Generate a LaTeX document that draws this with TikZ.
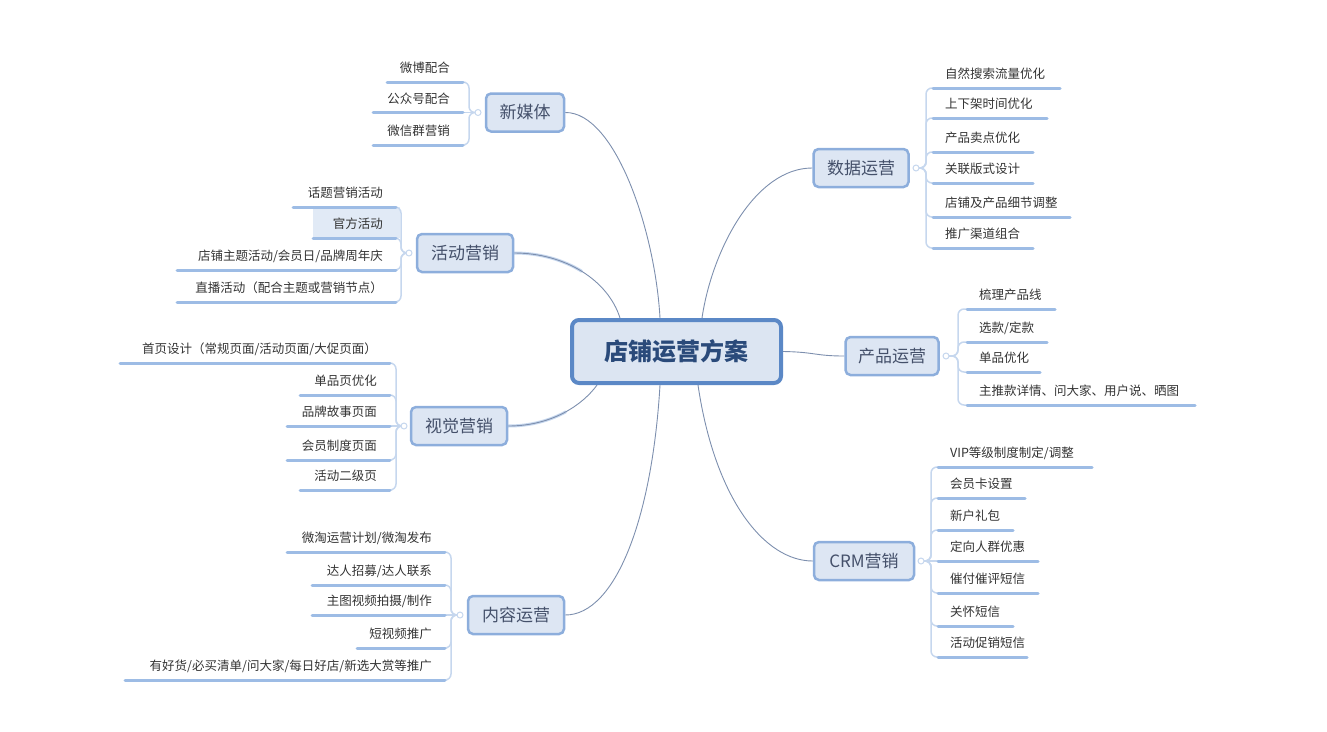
\documentclass[tikz,border=0pt]{standalone}
\usepackage{fontspec}
\setmainfont{Noto Sans CJK SC}
\pgfdeclarelayer{bg}
\pgfsetlayers{bg,main}
\definecolor{cBorder}{HTML}{5B88C6}
\definecolor{cFill}{HTML}{DCE5F2}
\definecolor{cText}{HTML}{2A4A7A}
\definecolor{tBorder}{HTML}{8DAEDC}
\definecolor{tFill}{HTML}{DDE6F3}
\definecolor{tText}{HTML}{44506A}
\definecolor{uColor}{HTML}{9DBCE5}
\definecolor{bColor}{HTML}{C6D7EE}
\definecolor{connColor}{HTML}{7D8FAE}
\definecolor{lText}{HTML}{333333}
\definecolor{hlFill}{HTML}{E1EAF6}
\tikzset{
  central/.style={draw=cBorder, line width=4pt, fill=cFill, rounded corners=7pt,
    minimum width=209pt, minimum height=63pt, text=cText,
    font=\fontsize{24}{28}\selectfont\bfseries},
  topic/.style={draw=tBorder, line width=2.5pt, fill=tFill, rounded corners=5pt,
    minimum height=38pt, text=tText, font=\fontsize{17}{20}\selectfont},
  leaf/.style={font=\fontsize{12.5}{15}\selectfont, text=lText, inner sep=0pt},
  uline/.style={draw=uColor, line width=3pt, line cap=round},
  bracket/.style={draw=bColor, line width=1.5pt, rounded corners=6pt},
  conn/.style={draw=connColor, line width=0.9pt},
  connhl/.style={draw=bColor, line width=3pt, line cap=round},
  dot/.style={circle, draw=bColor, fill=white, line width=1pt, minimum size=6pt, inner sep=0pt},
}
\newcommand{\leafL}[5]{%
  \coordinate (#1-a) at (#2,#4); \coordinate (#1-b) at (#3,#4);
  \draw[uline] (#1-a) -- (#1-b);
  \node[leaf, anchor=east, xshift=-13pt, yshift=14pt] (#1) at (#1-b) {#5};}
\newcommand{\leafR}[5]{%
  \coordinate (#1-a) at (#2,#4); \coordinate (#1-b) at (#3,#4);
  \draw[uline] (#1-a) -- (#1-b);
  \node[leaf, anchor=west, xshift=12pt, yshift=14pt] (#1) at (#1-a) {#5};}
\begin{document}
\begin{tikzpicture}[x=1pt, y=-1pt]
\useasboundingbox (0,0) rectangle (1327,731);

% central and topics
\node[central] (root) at (676.5,351.5) {店铺运营方案};
\node[topic, minimum width=78pt] (nm) at (525,112.5) {新媒体};
\node[topic, minimum width=96pt] (hd) at (465,253) {活动营销};
\node[topic, minimum width=96pt] (sj) at (459,426) {视觉营销};
\node[topic, minimum width=96pt] (nr) at (516,615) {内容运营};
\node[topic, minimum width=95pt] (data) at (861,168) {数据运营};
\node[topic, minimum width=93pt] (cp) at (892,356) {产品运营};
\node[topic, minimum width=100pt] (crm) at (864,561) {CRM营销};
\coordinate (hdM) at (581.7,271.25);
\coordinate (sjM) at (565.7,411.9);

% main connectors
\begin{pgfonlayer}{bg}
\draw[conn] (nm.east) .. controls (615,112) and (655,230) .. ([xshift=-16.5pt]root.north);
\draw[connhl] (hd.east) .. controls (539.6,253) and (563.1,259.75) .. (hdM);
\draw[conn] (hd.east) .. controls (565,253) and (608,280) .. ([xshift=-56.5pt]root.north);
\draw[conn] ([xshift=25.5pt]root.north) .. controls (712,250) and (755,168) .. (data.west);
\draw[connhl] (sj.east) .. controls (531.6,426) and (550.8,420) .. (sjM);
\draw[conn] (sj.east) .. controls (555,426) and (585,402) .. ([xshift=-79.5pt]root.south);
\draw[conn] ([xshift=-16.5pt]root.south) .. controls (652,520) and (615,615) .. (nr.east);
\draw[conn] ([xshift=21.5pt]root.south) .. controls (715,500) and (765,561) .. (crm.west);
\draw[conn] (root.east) .. controls (815,352) and (815,356) .. (cp.west);
\fill[hlFill] (313,207) rectangle (400,238);
\end{pgfonlayer}

% 新媒体
\leafL{nm1}{387}{463}{82}{微博配合}
\leafL{nm2}{373}{463}{112.5}{公众号配合}
\leafL{nm3}{373}{463}{145}{微信群营销}
% 活动营销
\leafL{hd1}{293}{396}{207}{话题营销活动}
\leafL{hd2}{313}{396}{238}{官方活动}
\leafL{hd3}{177}{396}{270}{店铺主题活动/会员日/品牌周年庆}
\leafL{hd4}{177}{396}{302}{直播活动（配合主题或营销节点）}
% 视觉营销
\leafL{sj1}{120}{390}{363}{首页设计（常规页面/活动页面/大促页面）}
\leafL{sj2}{300}{390}{395}{单品页优化}
\leafL{sj3}{287}{390}{426}{品牌故事页面}
\leafL{sj4}{287}{390}{460}{会员制度页面}
\leafL{sj5}{300}{390}{490}{活动二级页}
% 内容运营
\leafL{nr1}{287}{445}{552}{微淘运营计划/微淘发布}
\leafL{nr2}{312}{445}{585}{达人招募/达人联系}
\leafL{nr3}{312}{445}{615}{主图视频拍摄/制作}
\leafL{nr4}{357}{445}{648}{短视频推广}
\leafL{nr5}{125}{445}{680}{有好货/必买清单/问大家/每日好店/新选大赏等推广}
% 数据运营
\leafR{d1}{933}{1060}{88}{自然搜索流量优化}
\leafR{d2}{933}{1047}{118}{上下架时间优化}
\leafR{d3}{933}{1033}{152}{产品卖点优化}
\leafR{d4}{933}{1033}{183}{关联版式设计}
\leafR{d5}{933}{1070}{217}{店铺及产品细节调整}
\leafR{d6}{933}{1033}{248}{推广渠道组合}
% 产品运营
\leafR{p1}{967}{1055}{309}{梳理产品线}
\leafR{p2}{967}{1047}{342}{选款/定款}
\leafR{p3}{967}{1040}{372}{单品优化}
\leafR{p4}{967}{1195}{405}{主推款详情、问大家、用户说、晒图}
% CRM营销
\leafR{c1}{938}{1092}{467}{VIP等级制度制定/调整}
\leafR{c2}{938}{1025}{498}{会员卡设置}
\leafR{c3}{938}{1013}{530}{新户礼包}
\leafR{c4}{938}{1038}{561}{定向人群优惠}
\leafR{c5}{938}{1038}{593}{催付催评短信}
\leafR{c6}{938}{1013}{626}{关怀短信}
\leafR{c7}{938}{1027}{657}{活动促销短信}

% junctions and spines
\coordinate (nmJ) at (478,112.5); \coordinate (nmS) at (469,112.5);
\coordinate (hdJ) at (409,253); \coordinate (hdS) at (401,253);
\coordinate (sjJ) at (404,426); \coordinate (sjS) at (396,426);
\coordinate (nrJ) at (460,615); \coordinate (nrS) at (451,615);
\coordinate (dJ) at (916,168); \coordinate (dS) at (926,168);
\coordinate (pJ) at (946,356); \coordinate (pS) at (958,356);
\coordinate (cJ) at (921,561); \coordinate (cS) at (931,561);

\begin{pgfonlayer}{bg}
\foreach \e in {nm1,nm3} \draw[bracket] (nmJ) -- (nmS) -- (nmS |- \e-b) -- (\e-b);
\draw[bracket] (nmJ) -- (nm2-b);
\foreach \e in {hd1,hd2,hd3,hd4} \draw[bracket] (hdJ) -- (hdS) -- (hdS |- \e-b) -- (\e-b);
\foreach \e in {sj1,sj2,sj4,sj5} \draw[bracket] (sjJ) -- (sjS) -- (sjS |- \e-b) -- (\e-b);
\draw[bracket] (sjJ) -- (sj3-b);
\foreach \e in {nr1,nr2,nr4,nr5} \draw[bracket] (nrJ) -- (nrS) -- (nrS |- \e-b) -- (\e-b);
\draw[bracket] (nrJ) -- (nr3-b);
\foreach \e in {d1,d2,d3,d4,d5,d6} \draw[bracket] (dJ) -- (dS) -- (dS |- \e-a) -- (\e-a);
\foreach \e in {p1,p2,p3,p4} \draw[bracket] (pJ) -- (pS) -- (pS |- \e-a) -- (\e-a);
\foreach \e in {c1,c2,c3,c5,c6,c7} \draw[bracket] (cJ) -- (cS) -- (cS |- \e-a) -- (\e-a);
\draw[bracket] (cJ) -- (c4-a);
\end{pgfonlayer}

\node[dot] (nmC) at (nmJ) {};
\node[dot] (hdC) at (hdJ) {};
\node[dot] (sjC) at (sjJ) {};
\node[dot] (nrC) at (nrJ) {};
\node[dot] (dC) at (dJ) {};
\node[dot] (pC) at (pJ) {};
\node[dot] (cC) at (cJ) {};
\end{tikzpicture}
\end{document}
